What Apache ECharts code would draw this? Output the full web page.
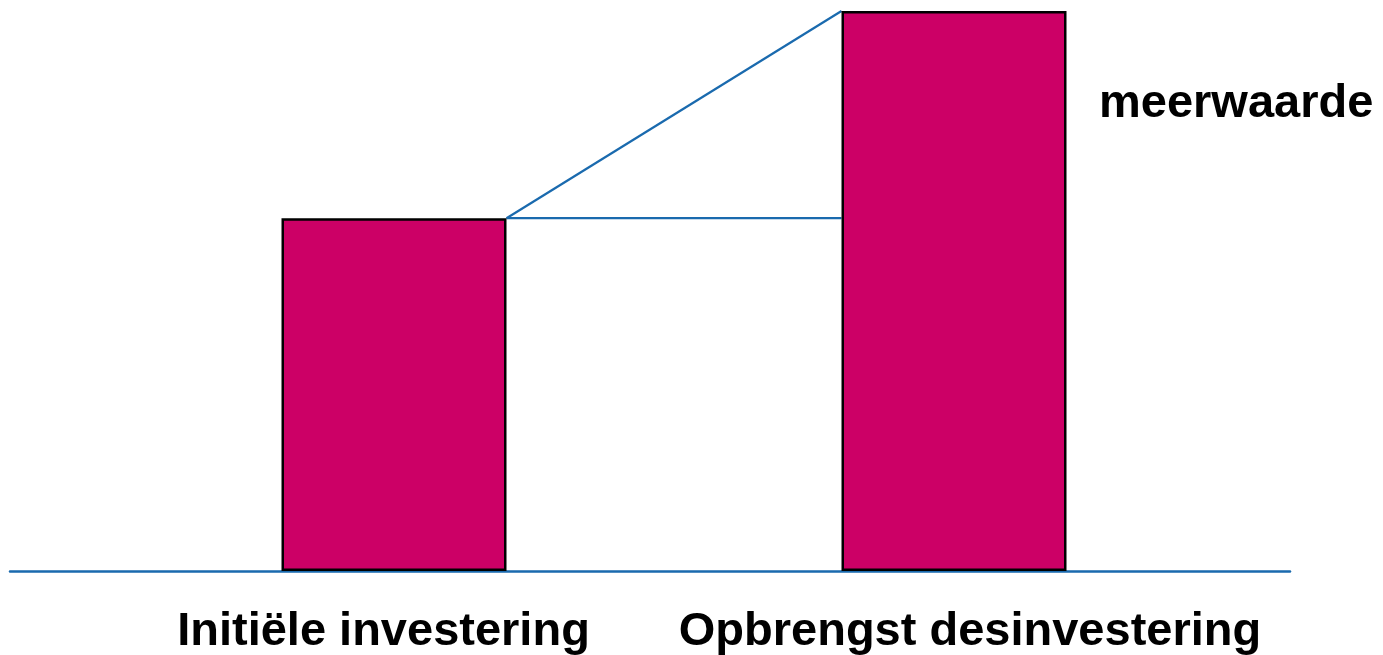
<!DOCTYPE html>
<html>
<head>
<meta charset="utf-8">
<script src="https://cdn.jsdelivr.net/npm/echarts@6/dist/echarts.min.js"></script>
<style>
  html, body { margin: 0; padding: 0; background: #fff; }
  #chart { width: 1383px; height: 655px; }
</style>
</head>
<body>
<div id="chart"></div>
<script>
// categories and their positions on the (hidden) x scale
var categories = ['Initiële investering', 'Opbrengst desinvestering'];
var barPos = [38.4, 94.4];
var barValues = [63, 100];
var barHalf = 11.25; // half bar width in x units
// label anchors
var labelPos = [37.35, 96.0];
var noteText = 'meerwaarde';
var notePos = [108.9, 83.4];

var chart = echarts.init(document.getElementById('chart'));

var blue = '#1a6aae';
var fontFam = '"Liberation Sans", Arial, sans-serif';

var left1 = barPos[0] + barHalf;
var right2 = barPos[1] - barHalf;

chart.setOption({
    animation: false,
    grid: { left: 10, right: 93, top: 11, bottom: 84 },
    xAxis: {
        type: 'value',
        min: 0,
        max: 128,
        axisLine: { show: true, onZero: true, lineStyle: { color: blue, width: 2.5 } },
        axisTick: { show: false },
        axisLabel: { show: false },
        splitLine: { show: false }
    },
    yAxis: {
        type: 'value',
        min: 0,
        max: 100,
        show: false,
        splitLine: { show: false }
    },
    series: [
        {
            type: 'bar',
            barWidth: 225,
            itemStyle: { color: '#cc0066', borderColor: '#000', borderWidth: 2.5 },
            data: barPos.map(function (p, i) { return [p, barValues[i]]; }),
            z: 3
        },
        {
            type: 'line',
            symbol: 'none',
            lineStyle: { color: blue, width: 2.2 },
            data: [[left1, barValues[0]], [right2, barValues[1]]],
            z: 2
        },
        {
            type: 'line',
            symbol: 'none',
            lineStyle: { color: blue, width: 2.2 },
            data: [[left1, barValues[0]], [right2, barValues[0]]],
            z: 2
        }
    ]
});

// category texts and the note, placed through the grid's scales
var baseY = chart.convertToPixel({ gridIndex: 0 }, [0, 0])[1];
var texts = categories.map(function (c, i) {
    var px = chart.convertToPixel({ gridIndex: 0 }, [labelPos[i], 0]);
    return {
        type: 'text',
        x: px[0],
        y: baseY + 61,
        style: {
            text: c,
            fill: '#000',
            font: 'bold 47px ' + fontFam,
            textAlign: 'center',
            textVerticalAlign: 'middle'
        }
    };
});
var np = chart.convertToPixel({ gridIndex: 0 }, notePos);
texts.push({
    type: 'text',
    x: np[0],
    y: np[1],
    style: {
        text: noteText,
        fill: '#000',
        font: 'bold 47px ' + fontFam,
        textAlign: 'left',
        textVerticalAlign: 'middle'
    }
});
chart.setOption({ graphic: texts });
</script>
</body>
</html>
